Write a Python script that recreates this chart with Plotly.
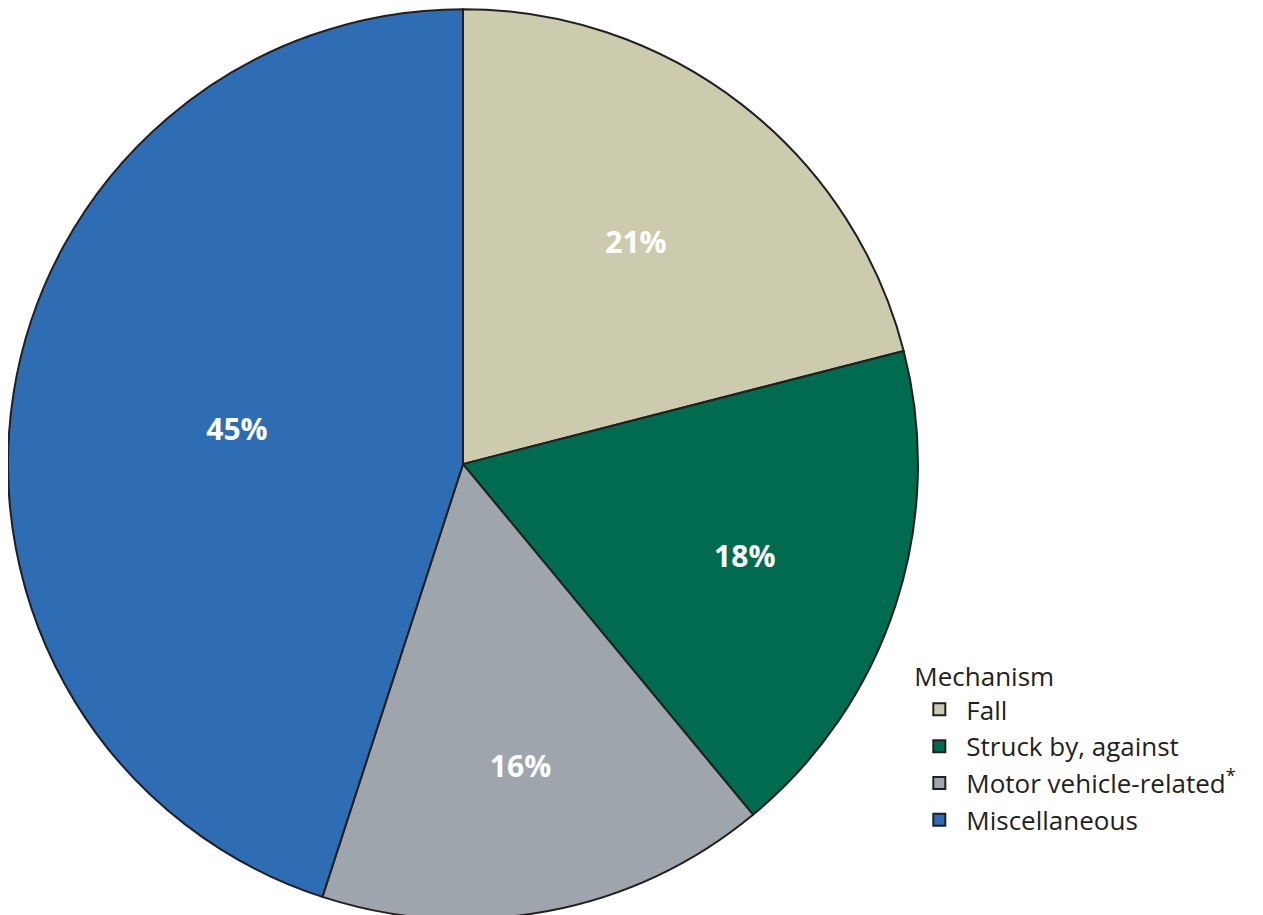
import plotly.graph_objects as go

labels = ["Fall", "Struck by, against", "Motor vehicle-related<sup>*</sup>", "Miscellaneous"]
values = [21, 18, 16, 45]
colors = ["#CCCBAD", "#006B4E", "#9EA5AD", "#2E6DB4"]

fig = go.Figure(go.Pie(
    labels=labels,
    values=values,
    sort=False,
    direction="clockwise",
    rotation=0,
    marker=dict(colors=colors, line=dict(color="#231F20", width=2)),
    textinfo="percent",
    texttemplate="<b>%{percent:.0%}</b>",
    textposition="inside",
    insidetextfont=dict(color="white", size=30, family="Open Sans"),
    domain=dict(x=[0.0, 910/1263], y=[0.003, 1.0]),
    hoverinfo="label+percent",
))

fig.update_layout(
    width=1263, height=915,
    margin=dict(l=0, r=0, t=0, b=0),
    paper_bgcolor="white",
    font=dict(family="Open Sans", color="#231F20", size=26),
    legend=dict(
        title=dict(text="Mechanism", font=dict(size=26)),
        x=0.716, xanchor="left",
        y=0.296, yanchor="top",
        font=dict(size=26),
        itemwidth=44,
        traceorder="normal",
        tracegroupgap=0,
    ),
)

fig.write_html("out.html")
